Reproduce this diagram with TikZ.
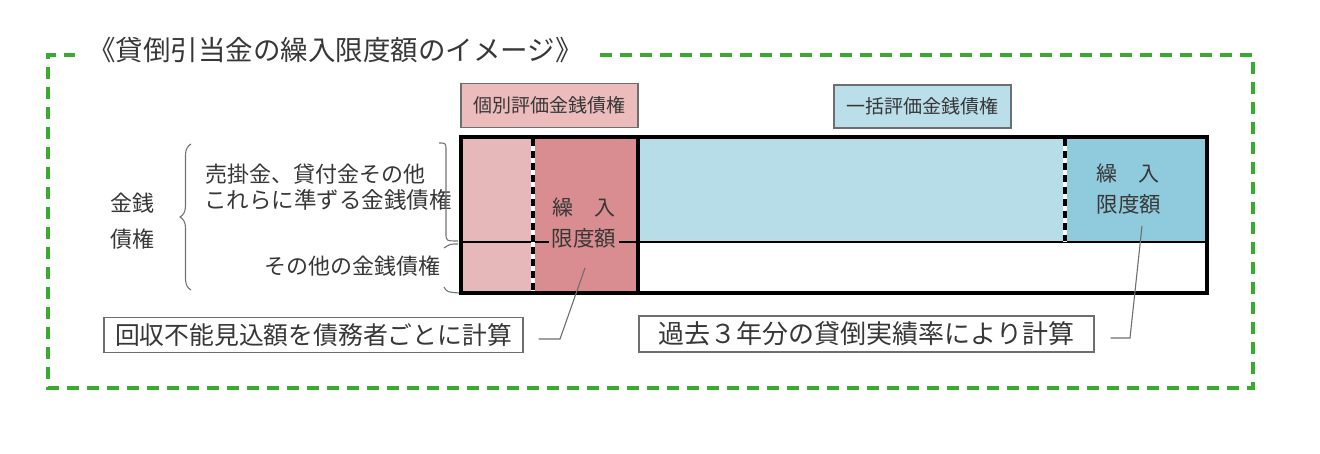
\documentclass[tikz,border=0pt]{standalone}
\usepackage{fontspec}
\setmainfont{Noto Sans CJK JP}
\usetikzlibrary{decorations.pathreplacing}
\definecolor{grn}{RGB}{56,172,44}
\definecolor{pinkL}{RGB}{231,184,186}
\definecolor{pinkD}{RGB}{217,141,144}
\definecolor{pinkT}{RGB}{236,187,188}
\definecolor{blueL}{RGB}{183,222,232}
\definecolor{blueD}{RGB}{143,203,220}
\definecolor{blueT}{RGB}{186,223,235}
\definecolor{txt}{RGB}{55,55,55}
\definecolor{lead}{RGB}{110,110,110}
\tikzset{
  lbl/.style={inner sep=0pt, text=txt},
  tagbox/.style={draw=lead, line width=1.2pt, text=txt, minimum height=44pt, inner sep=0pt},
  calcbox/.style={draw=lead, line width=1.3pt, text=txt, minimum height=35pt, inner sep=0pt, fill=white},
  thick4/.style={line width=4pt},
  leader/.style={draw=lead, line width=1.1pt},
  gdash/.style={draw=grn, line width=3.6pt, dash pattern=on 12pt off 8pt},
  bdash/.style={line width=3.5pt, dash pattern=on 7pt off 5pt}
}
\begin{document}
\begin{tikzpicture}[x=1pt,y=-1pt]
\useasboundingbox (0,0) rectangle (1320,454);
% green frame
\draw[gdash] (600,55) -- (1253,55) -- (1253,388) -- (48,388) -- (48,55) -- (75,55);
\node[lbl, font=\fontsize{27.5}{29}\selectfont, anchor=west] (title) at (88,50) {《貸倒引当金の繰入限度額のイメージ》};
% tag boxes
\node[tagbox, fill=pinkT, minimum width=177pt, font=\fontsize{19}{20}\selectfont] (tagP) at (549.5,105.5) {個別評価金銭債権};
\node[tagbox, fill=blueT, minimum width=177pt, minimum height=43pt, font=\fontsize{19}{20}\selectfont] (tagB) at (922.5,106.5) {一括評価金銭債権};
% regions
\fill[pinkL] (461,137) rectangle (533,293);
\fill[pinkD] (533,137) rectangle (638,293);
\fill[blueL] (638,137) rectangle (1065,242);
\fill[blueD] (1065,137) rectangle (1207,242);
% lines
\draw[line width=2.2pt] (461,242) -- (1207,242);
\draw[white, line width=3.5pt] (533,137) -- (533,293);
\draw[bdash] (533,139) -- (533,293);
\draw[white, line width=3.5pt] (1065,137) -- (1065,242);
\draw[bdash] (1065,139) -- (1065,241);
\draw[thick4] (638,137) -- (638,293);
\draw[thick4] (461,137) rectangle (1207,293);
% inner labels
\node[lbl, font=\fontsize{21}{23}\selectfont] (kP1) at (584,207) {繰\hspace{1em}入};
\node[lbl, fill=pinkD, inner xsep=3pt, inner ysep=1pt, font=\fontsize{21.5}{23}\selectfont] (kP2) at (584,238) {限度額};
\node[lbl, font=\fontsize{21}{23}\selectfont] (kB1) at (1128,173) {繰\hspace{1em}入};
\node[lbl, font=\fontsize{21.5}{23}\selectfont] (kB2) at (1129,204) {限度額};
% left texts
\node[lbl, font=\fontsize{22}{23}\selectfont] (kin1) at (132,203) {金銭};
\node[lbl, font=\fontsize{22}{23}\selectfont] (kin2) at (132,239) {債権};
\draw[txt!70, line width=1.1pt, decorate, decoration={brace, amplitude=11pt}] (191,290) -- (191,144);
\node[lbl, font=\fontsize{22}{23}\selectfont, anchor=west] (u1) at (205,174) {売掛金、貸付金その他};
\node[lbl, font=\fontsize{22.5}{23}\selectfont, anchor=west] (u2) at (204,200) {これらに準ずる金銭債権};
\node[lbl, font=\fontsize{22}{23}\selectfont, anchor=east] (u3) at (441,266) {その他の金銭債権};
\draw[txt!70, line width=1.1pt] (439,143) .. controls (446,143) .. (446,151) -- (446,233) .. controls (446,241) .. (458,241);
\draw[txt!70, line width=1.1pt] (444,248) .. controls (450,244) .. (458,244);
\draw[txt!70, line width=1.1pt] (444,287) .. controls (447,292) .. (459,293);
% calc boxes
\node[calcbox, minimum width=419pt, font=\fontsize{24.8}{26}\selectfont] (cP) at (313.5,335) {回収不能見込額を債務者ごとに計算};
\node[calcbox, minimum width=455pt, minimum height=36pt, font=\fontsize{26}{27}\selectfont] (cB) at (866.5,334) {過去３年分の貸倒実績率により計算};
% leaders
\coordinate (lp1) at (585,268);
\coordinate (lp2) at (560,339);
\coordinate (lb1) at (1142,226);
\coordinate (lb2) at (1130,338);
\draw[leader] (lp1) -- (lp2) -- ([xshift=15pt]cP.east |- lp2);
\draw[leader] (lb1) -- (lb2) -- ([xshift=16pt]cB.east |- lb2);
\end{tikzpicture}
\end{document}
